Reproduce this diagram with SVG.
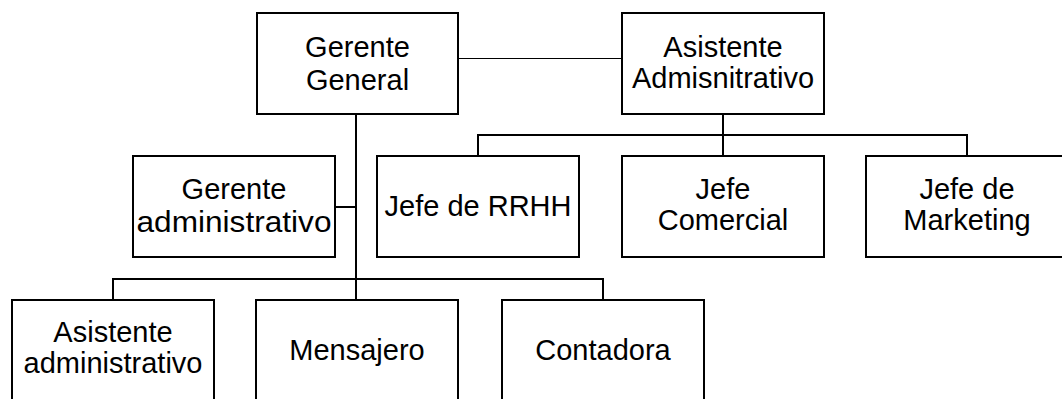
<svg xmlns="http://www.w3.org/2000/svg" width="1062" height="399" viewBox="0 0 1062 399">
<style>
.box{fill:#fff;stroke:#000;stroke-width:2}
.ln{fill:none;stroke:#000;stroke-width:2}
.thin{fill:none;stroke:#000;stroke-width:1}
text{font-family:"Liberation Sans",Arial,sans-serif;font-size:29px;fill:#000;text-anchor:middle}
</style>
<rect width="1062" height="399" fill="#fff"/>
<g id="connectors">
<line class="thin" x1="458" y1="58.5" x2="622" y2="58.5"/>
<line class="ln" x1="356" y1="114" x2="356" y2="279"/>
<line class="ln" x1="335" y1="207" x2="356" y2="207"/>
<polyline class="ln" points="113,300 113,279 603,279 603,300"/>
<line class="ln" x1="356" y1="279" x2="356" y2="300"/>
<line class="ln" x1="723" y1="114" x2="723" y2="156"/>
<polyline class="ln" points="478,156 478,135 967,135 967,156"/>
</g>
<g id="gerente-general">
<rect class="box" x="257" y="13" width="201" height="101"/>
<text x="357.5" y="57">Gerente</text>
<text x="357.5" y="90">General</text>
</g>
<g id="asistente-admisnitrativo">
<rect class="box" x="622" y="13" width="202" height="101"/>
<text x="723" y="57">Asistente</text>
<text x="723" y="88">Admisnitrativo</text>
</g>
<g id="gerente-administrativo">
<rect class="box" x="133" y="156" width="202" height="101"/>
<text x="234" y="199">Gerente</text>
<text x="234" y="231.5" textLength="195" lengthAdjust="spacingAndGlyphs">administrativo</text>
</g>
<g id="jefe-rrhh">
<rect class="box" x="377" y="156" width="202" height="101"/>
<text x="478" y="216">Jefe de RRHH</text>
</g>
<g id="jefe-comercial">
<rect class="box" x="622" y="156" width="202" height="101"/>
<text x="723" y="198.5">Jefe</text>
<text x="723" y="230">Comercial</text>
</g>
<g id="jefe-marketing">
<rect class="box" x="866" y="156" width="202" height="101"/>
<text x="967" y="198.5">Jefe de</text>
<text x="967" y="230">Marketing</text>
</g>
<g id="asistente-administrativo">
<rect class="box" x="12" y="300" width="202" height="101"/>
<text x="113" y="342">Asistente</text>
<text x="113" y="373">administrativo</text>
</g>
<g id="mensajero">
<rect class="box" x="256" y="300" width="202" height="101"/>
<text x="357" y="360">Mensajero</text>
</g>
<g id="contadora">
<rect class="box" x="502" y="300" width="202" height="101"/>
<text x="603" y="360">Contadora</text>
</g>
</svg>
